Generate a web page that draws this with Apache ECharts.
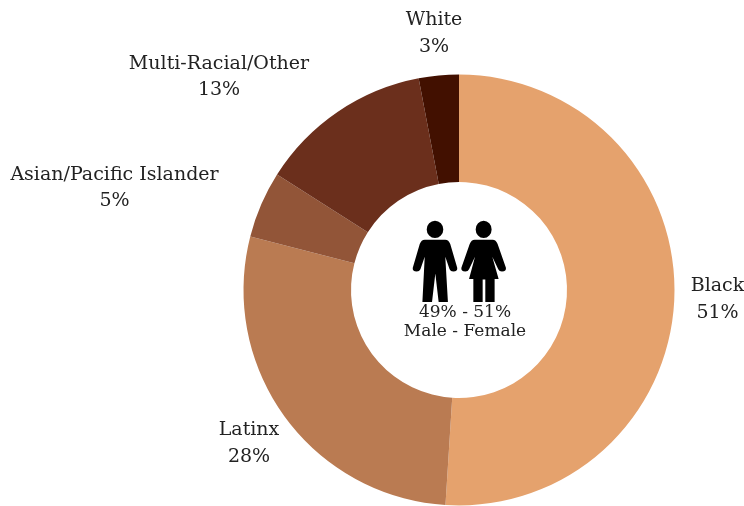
<!DOCTYPE html>
<html><head><meta charset="utf-8">
<style>html,body{margin:0;padding:0;background:#fff}#c{width:744px;height:506px}</style>
<script src="https://cdn.jsdelivr.net/npm/echarts@6/dist/echarts.min.js"></script>
</head><body><div id="c"></div>
<script>
const categories=["Black","Latinx","Asian/Pacific Islander","Multi-Racial/Other","White"];
const values=[51,28,5,13,3];
const colors=["#E5A26D","#BA7B52","#925538","#6B2F1C","#421000"];
const centerLines=["49% - 51%","Male - Female"];
const labelPos={Black:[717.5,299.5],Latinx:[249,443.5],"Asian/Pacific Islander":[114.5,188],"Multi-Racial/Other":[219,77],White:[434,33.5]};
const F="'DejaVu Serif'";
const male="M135 62a25 26 0 1 0 .01 0zM104 119H166Q176 119 181 132L202 203Q204 214 190 214Q182 214 179 207L166 170L174 305H146L136 220L126 305H97L104 170L91 207Q88 214 80 214Q66 214 68 203L89 132Q94 119 104 119z";
const female="M281 62a24 26 0 1 0 .01 0zM254 119H308Q318 119 323 132L348 203Q350 214 336 214Q328 214 325 207L307 170L326 236H314V305H286V238H278V305H250V236H237L255 170L237 207Q234 214 226 214Q212 214 214 203L239 132Q244 119 254 119z";
const icons=[{d:male,x:412.7,y:220.7,w:44.6,h:81.3},{d:female,x:461.3,y:220.7,w:44.7,h:81.3}];
const chart=echarts.init(document.getElementById('c'),null,{renderer:'canvas'});
chart.setOption({animation:false,
 series:[{type:'pie',center:[459,290],radius:[108,215.5],startAngle:90,clockwise:true,
  label:{show:true,position:'outside',overflow:'none',formatter:p=>p.name+"\n"+p.value+"%",fontFamily:F,fontSize:19,lineHeight:26.5,color:'#222',align:'center'},
  labelLine:{show:false},
  itemStyle:{borderWidth:0},
  emphasis:{disabled:true},
  labelLayout:p=>{const pos=labelPos[categories[p.dataIndex]];return {x:pos[0],y:pos[1],align:'center',verticalAlign:'middle'}},
  data:categories.map((n,i)=>({name:n,value:values[i],itemStyle:{color:colors[i]}}))},
 {type:'custom',coordinateSystem:'none',silent:true,data:icons.map((_,i)=>i),
  renderItem:(params)=>{const ic=icons[params.dataIndex];return {type:'path',shape:{pathData:ic.d,layout:'cover',x:ic.x,y:ic.y,width:ic.w,height:ic.h},style:{fill:'#000'}};}}],
 graphic:[
  {type:'text',style:{text:centerLines.join("\n"),x:465,y:322.5,align:'center',verticalAlign:'middle',font:"17px "+F,lineHeight:19,fill:'#222'}}
 ]});
</script></body></html>
